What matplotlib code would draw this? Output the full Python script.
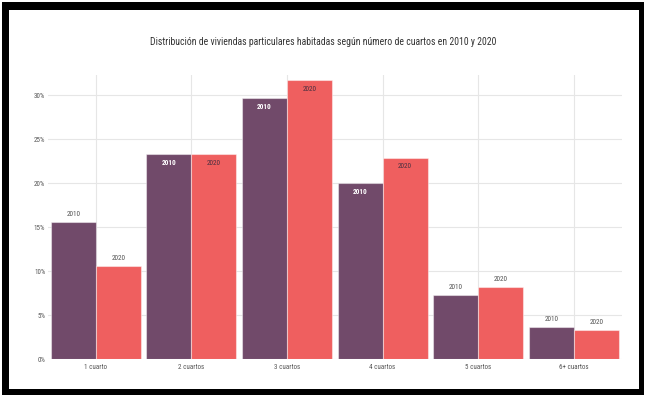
import numpy as np
import matplotlib
matplotlib.use("Agg")
import matplotlib.pyplot as plt
from matplotlib.patches import Rectangle
from matplotlib import font_manager

categorias = ["1 cuarto", "2 cuartos", "3 cuartos", "4 cuartos", "5 cuartos", "6+ cuartos"]
v2010 = [15.6, 23.3, 29.7, 20.0, 7.3, 3.6]
v2020 = [10.6, 23.3, 31.7, 22.9, 8.2, 3.3]
yticks = [0, 5, 10, 15, 20, 25, 30]

C2010 = "#714a6a"
C2020 = "#ef5f5f"

# first condensed-ish family that is installed
FONT = "DejaVu Sans"
for cand in ["Roboto Condensed", "Open Sans Condensed", "Liberation Sans Narrow",
             "Arial Narrow", "Liberation Sans", "Roboto"]:
    try:
        font_manager.findfont(cand, fallback_to_default=False)
        FONT = cand
        break
    except ValueError:
        pass
plt.rcParams['font.family'] = [FONT, "DejaVu Sans"]
narrow = FONT in ("Roboto Condensed", "Open Sans Condensed", "Liberation Sans Narrow", "Arial Narrow")
fs_title = 7 if narrow else 6.2
fs_small = 5 if narrow else 4.6
fs_bar = 5.2 if narrow else 4.8

fig = plt.figure(figsize=(6.46, 3.97), dpi=100)
fig.patch.set_facecolor("white")
# black frame
fig.patches.append(Rectangle((2/646, 1-395/397), 642/646, 393/397,
                             transform=fig.transFigure, facecolor="black",
                             edgecolor="none", zorder=-2))
fig.patches.append(Rectangle((9/646, 1-389/397), 630/646, 379/397,
                             transform=fig.transFigure, facecolor="white",
                             edgecolor="none", zorder=-1))

ax = fig.add_axes([48/646, 1-359/397, 573.6/646, 284/397])
ax.set_facecolor("none")
x = np.arange(len(categorias))
w = 0.47
b1 = ax.bar(x - w/2, v2010, w, color=C2010, edgecolor=(1, 1, 1, 0.45), linewidth=0.8, zorder=3)
b2 = ax.bar(x + w/2, v2020, w, color=C2020, edgecolor=(1, 1, 1, 0.45), linewidth=0.8, zorder=3)

for bars, vals, year, incol in [(b1, v2010, "2010", "white"), (b2, v2020, "2020", "#4a3040")]:
    for r, v in zip(bars, vals):
        cx = r.get_x() + r.get_width()/2
        if v > 18:
            ax.annotate(year, (cx, v), xytext=(0, -6.5), textcoords="offset points",
                        ha="center", va="center", fontsize=fs_bar, color=incol, zorder=4,
                        fontweight="bold" if year == "2010" else "normal")
        else:
            ax.annotate(year, (cx, v), xytext=(0, 5.5), textcoords="offset points",
                        ha="center", va="center", fontsize=fs_bar, color="#555555", zorder=4)

ax.set_xlim(-0.5, 5.5)
ax.set_ylim(0, 32.3)
ax.set_yticks(yticks)
ax.set_yticklabels([f"{t}%" for t in yticks])
ax.set_xticks(x)
ax.set_xticklabels(categorias)
ax.tick_params(axis="both", length=0, labelsize=fs_small, labelcolor="#555555")
ax.tick_params(axis="y", pad=2)
ax.tick_params(axis="x", pad=3.5)
ax.grid(True, color="#e6e6e6", linewidth=0.8, zorder=0)
for s in ax.spines.values():
    s.set_visible(False)

fig.text(0.5, 1-42/397, "Distribución de viviendas particulares habitadas según número de cuartos en 2010 y 2020",
         ha="center", va="center", fontsize=fs_title, color="#333333")

fig.savefig("out.png", dpi=100, facecolor=fig.get_facecolor())
